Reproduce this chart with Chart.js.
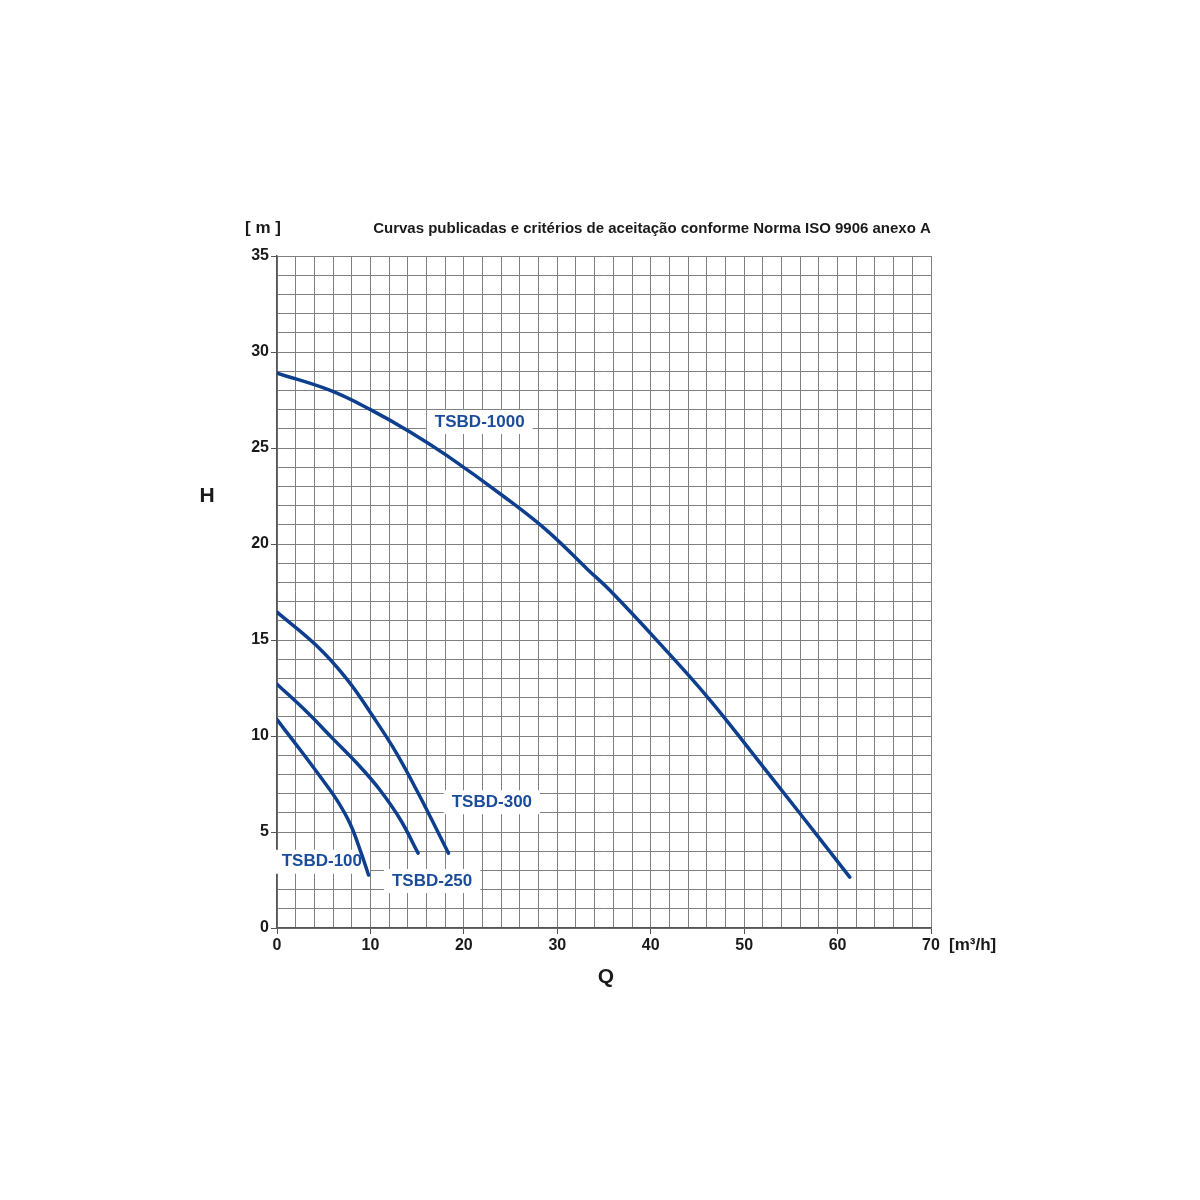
<!DOCTYPE html>
<html>
<head>
<meta charset="utf-8">
<script src="https://cdn.jsdelivr.net/npm/chart.js"></script>
<style>
  html, body { margin: 0; padding: 0; background: #fff; }
  #wrap { width: 1200px; height: 1200px; }
</style>
</head>
<body>
<div id="wrap"><canvas id="chart" width="1200" height="1200"></canvas></div>
<script>
// curve data, Q in m3/h, H in m
const q1000 = [0, 5.7, 10, 14.2, 18.2, 24.2, 28.9, 33.3, 35.6, 41.0, 46.3, 51.7, 56.0, 61.3];
const h1000 = [28.9, 28.0, 27.0, 25.85, 24.6, 22.5, 20.7, 18.65, 17.6, 14.8, 11.9, 8.6, 5.95, 2.65];

const q300 = [0, 4.25, 7.5, 10.3, 12.8, 15.3, 18.35];
const h300 = [16.45, 14.7, 12.95, 11.0, 9.1, 6.85, 3.9];

const q250 = [0, 3.2, 6.0, 8.9, 11.0, 13.2, 15.1];
const h250 = [12.7, 11.25, 9.85, 8.4, 7.2, 5.65, 3.9];

const q100 = [0, 2.5, 4.6, 6.4, 7.8, 8.9, 9.8];
const h100 = [10.85, 9.27, 7.9, 6.67, 5.45, 4.06, 2.76];

const names = ['TSBD-1000', 'TSBD-300', 'TSBD-250', 'TSBD-100'];
const xTicks = [0, 10, 20, 30, 40, 50, 60, 70];
const yTicks = [0, 5, 10, 15, 20, 25, 30, 35];

const lineColor = '#0e3f8e';
const labelColor = '#1b4c9c';
const FONT = '"Liberation Sans", Arial, sans-serif';

function pts(qs, hs) {
  return qs.map((q, i) => ({ x: q, y: hs[i] }));
}

function ds(label, qs, hs) {
  return {
    label: label,
    data: pts(qs, hs),
    borderColor: lineColor,
    borderWidth: 3.5,
    pointRadius: 0,
    tension: 0.4,
    fill: false,
    borderCapStyle: 'round'
  };
}

// curve name tags: [text, Q, H]
const tags = [
  ['TSBD-1000', 21.7, 26.35],
  ['TSBD-300', 23.0, 6.55],
  ['TSBD-250', 16.6, 2.45],
  ['TSBD-100', 4.8, 3.45]
];

const decor = {
  id: 'decor',
  beforeDatasetsDraw(chart) {
    const c = chart.ctx;
    const xs = chart.scales.x, ys = chart.scales.y;
    c.save();
    c.font = 'bold 17px ' + FONT;
    c.fillStyle = '#fff';
    tags.forEach(t => {
      const px = xs.getPixelForValue(t[1]);
      const py = ys.getPixelForValue(t[2]);
      const w = c.measureText(t[0]).width;
      c.fillRect(px - w / 2 - 8, py - 12, w + 16, 24);
    });
    c.restore();
  },
  afterDatasetsDraw(chart) {
    const c = chart.ctx;
    const xs = chart.scales.x, ys = chart.scales.y;
    c.save();
    c.font = 'bold 17px ' + FONT;
    c.textAlign = 'center';
    c.textBaseline = 'middle';
    c.fillStyle = labelColor;
    tags.forEach(t => {
      c.fillText(t[0], xs.getPixelForValue(t[1]), ys.getPixelForValue(t[2]));
    });
    c.restore();
  },
  afterDraw(chart) {
    const c = chart.ctx;
    c.save();
    c.fillStyle = '#1a1a1a';
    c.textBaseline = 'middle';
    c.textAlign = 'center';
    c.font = 'bold 15px ' + FONT;
    c.fillText('Curvas publicadas e critérios de aceitação conforme Norma ISO 9906 anexo A', 652, 229);
    c.font = 'bold 17px ' + FONT;
    c.fillText('[ m ]', 263, 228);
    c.textAlign = 'left';
    c.fillText('[m³/h]', 949, 945);
    c.textAlign = 'center';
    c.font = 'bold 21px ' + FONT;
    c.fillText('H', 207, 496);
    c.fillText('Q', 606, 977);
    c.restore();
  }
};

new Chart(document.getElementById('chart'), {
  type: 'line',
  data: {
    datasets: [
      ds(names[0], q1000, h1000),
      ds(names[1], q300, h300),
      ds(names[2], q250, h250),
      ds(names[3], q100, h100)
    ]
  },
  options: {
    responsive: false,
    animation: false,
    layout: { padding: { left: 229, top: 256, right: 269, bottom: 232 } },
    plugins: { legend: { display: false }, tooltip: { enabled: false } },
    scales: {
      x: {
        type: 'linear',
        min: 0, max: 70,
        afterFit: s => { s.height = 40; },
        ticks: {
          stepSize: 2,
          autoSkip: false,
          maxRotation: 0,
          padding: 2,
          color: '#1a1a1a',
          font: { family: FONT, size: 16, weight: 'bold' },
          callback: v => xTicks.includes(v) ? String(v) : ''
        },
        grid: {
          color: '#808080',
          lineWidth: 1,
          tickLength: 6,
          tickColor: ctx => (ctx.tick && xTicks.includes(ctx.tick.value)) ? '#555' : 'rgba(0,0,0,0)'
        },
        border: { color: '#555', width: 1.5 }
      },
      y: {
        type: 'linear',
        min: 0, max: 35,
        afterFit: s => { s.width = 48; },
        ticks: {
          stepSize: 1,
          autoSkip: false,
          padding: 2,
          color: '#1a1a1a',
          font: { family: FONT, size: 16, weight: 'bold' },
          callback: v => yTicks.includes(v) ? String(v) : ''
        },
        grid: {
          color: '#808080',
          lineWidth: 1,
          tickLength: 6,
          tickColor: ctx => (ctx.tick && yTicks.includes(ctx.tick.value)) ? '#555' : 'rgba(0,0,0,0)'
        },
        border: { color: '#555', width: 1.5 }
      }
    }
  },
  plugins: [decor]
});
</script>
</body>
</html>
